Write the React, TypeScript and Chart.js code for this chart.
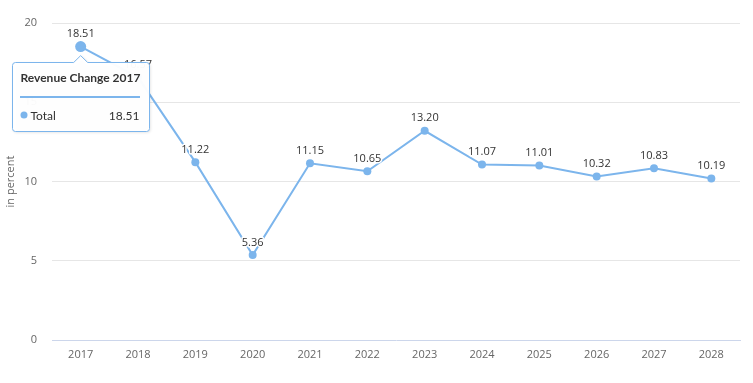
import React, { useEffect, useRef } from "react";
import { Chart, registerables } from "chart.js";

Chart.register(...registerables);

const years = ["2017", "2018", "2019", "2020", "2021", "2022", "2023", "2024", "2025", "2026", "2027", "2028"];
const revenueChange = [18.51, 16.57, 11.22, 5.36, 11.15, 10.65, 13.2, 11.07, 11.01, 10.32, 10.83, 10.19];
const yTicks = [0, 5, 10, 15, 20];
const seriesName = "Total";
const tooltipTitle = "Revenue Change 2017";
const axisTitle = "in percent";
const hoverIndex = 0;

const FONT = "'Open Sans', 'DejaVu Sans', sans-serif";
const TIP_FONT = "Lato, 'Open Sans', sans-serif";
const LINE = "#7cb5ec";

const overlayPlugin = {
  id: "overlay",
  afterDatasetsDraw(chart: any) {
    const ctx = chart.ctx;
    const meta = chart.getDatasetMeta(0);
    ctx.save();
    // data labels
    ctx.font = `11px ${FONT}`;
    ctx.textAlign = "center";
    ctx.textBaseline = "bottom";
    meta.data.forEach((pt: any, i: number) => {
      const txt = revenueChange[i].toFixed(2);
      ctx.lineWidth = 3;
      ctx.strokeStyle = "#ffffff";
      ctx.lineJoin = "round";
      ctx.strokeText(txt, pt.x, pt.y - 7);
      ctx.fillStyle = "#333333";
      ctx.fillText(txt, pt.x, pt.y - 7);
    });
    // axis title
    const area = chart.chartArea;
    ctx.save();
    ctx.translate(11, (area.top + area.bottom) / 2);
    ctx.rotate(-Math.PI / 2);
    ctx.font = `11px ${FONT}`;
    ctx.fillStyle = "#666666";
    ctx.textAlign = "center";
    ctx.textBaseline = "middle";
    ctx.fillText(axisTitle, 0, 0);
    ctx.restore();

    // tooltip
    const p = meta.data[hoverIndex];
    const bx = 12.5, by = 62.5, bw = 137, bh = 69;
    const ax = p.x, ay = p.y + 9;
    ctx.beginPath();
    ctx.moveTo(bx + 3, by);
    ctx.lineTo(ax - 7, by);
    ctx.lineTo(ax, ay);
    ctx.lineTo(ax + 7, by);
    ctx.lineTo(bx + bw - 3, by);
    ctx.quadraticCurveTo(bx + bw, by, bx + bw, by + 3);
    ctx.lineTo(bx + bw, by + bh - 3);
    ctx.quadraticCurveTo(bx + bw, by + bh, bx + bw - 3, by + bh);
    ctx.lineTo(bx + 3, by + bh);
    ctx.quadraticCurveTo(bx, by + bh, bx, by + bh - 3);
    ctx.lineTo(bx, by + 3);
    ctx.quadraticCurveTo(bx, by, bx + 3, by);
    ctx.closePath();
    ctx.shadowColor = "rgba(0,0,0,0.12)";
    ctx.shadowOffsetX = 1;
    ctx.shadowOffsetY = 1;
    ctx.shadowBlur = 3;
    ctx.fillStyle = "rgba(255,255,255,0.97)";
    ctx.fill();
    ctx.shadowColor = "transparent";
    ctx.lineWidth = 1;
    ctx.strokeStyle = LINE;
    ctx.stroke();

    ctx.fillStyle = "#333333";
    ctx.font = `bold 12px ${TIP_FONT}`;
    ctx.textAlign = "left";
    ctx.textBaseline = "middle";
    ctx.fillText(tooltipTitle, bx + 8, by + 16);

    ctx.fillStyle = LINE;
    ctx.fillRect(bx + 7.5, by + 33.5, bw - 17, 2);

    ctx.beginPath();
    ctx.arc(bx + 11.5, by + 52.5, 3.5, 0, Math.PI * 2);
    ctx.fillStyle = LINE;
    ctx.fill();
    ctx.fillStyle = "#333333";
    ctx.font = `12px ${TIP_FONT}`;
    ctx.fillText(seriesName, bx + 18, by + 53.5);
    ctx.textAlign = "right";
    ctx.fillText(revenueChange[hoverIndex].toFixed(2), bx + bw - 10, by + 53.5);
    ctx.restore();
  },
};

export default function App() {
  const ref = useRef<HTMLCanvasElement | null>(null);
  useEffect(() => {
    if (!ref.current) return;
    const chart = new Chart(ref.current, {
      type: "line",
      data: {
        labels: years,
        datasets: [
          {
            label: seriesName,
            data: revenueChange,
            borderColor: LINE,
            backgroundColor: LINE,
            borderWidth: 2,
            pointRadius: revenueChange.map((_, i) => (i === hoverIndex ? 5.5 : 4)),
            pointBackgroundColor: LINE,
            pointBorderWidth: 0,
            tension: 0,
          },
        ],
      },
      options: {
        animation: false,
        responsive: false,
        maintainAspectRatio: false,
        layout: { padding: { top: 23, right: 13, left: 0, bottom: 0 } },
        plugins: { legend: { display: false }, tooltip: { enabled: false } },
        scales: {
          x: {
            offset: true,
            grid: { display: false, drawTicks: false },
            border: { display: true, color: "#ccd6eb", width: 1 },
            ticks: { color: "#666666", font: { family: FONT, size: 11 }, padding: 8, maxRotation: 0, autoSkip: false },
            afterFit: (s: any) => { s.height = 43; },
          },
          y: {
            min: 0,
            max: 20,
            afterBuildTicks: (s: any) => { s.ticks = yTicks.map((v) => ({ value: v })); },
            grid: {
              color: (c: any) => (c.tick && c.tick.value === 0 ? "rgba(0,0,0,0)" : "#e6e6e6"),
              drawTicks: false,
              lineWidth: 1,
            },
            border: { display: false },
            ticks: { color: "#666666", font: { family: FONT, size: 11 }, padding: 15 },
            afterFit: (s: any) => { s.width = 52; },
          },
        },
      },
      plugins: [overlayPlugin],
    });
    return () => chart.destroy();
  }, []);
  return (
    <div style={{ position: "fixed", left: 0, top: 0, width: 753, height: 383, background: "#fff" }}>
      <canvas ref={ref} width={753} height={383} style={{ width: 753, height: 383 }} />
    </div>
  );
}
